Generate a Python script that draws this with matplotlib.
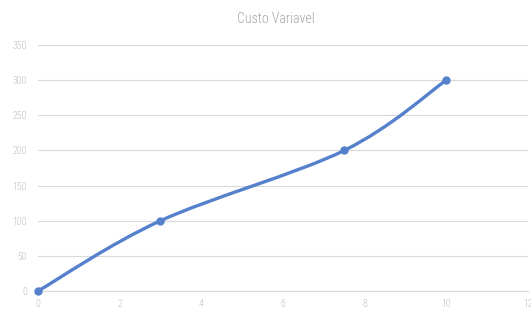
import matplotlib.pyplot as plt
from matplotlib.path import Path
from matplotlib.patches import PathPatch
from matplotlib import font_manager

x_vals = [0, 3, 7.5, 10]
y_vals = [0, 100, 200, 300]
x_ticks = [0, 2, 4, 6, 8, 10, 12]
y_ticks = [0, 50, 100, 150, 200, 250, 300, 350]
title = 'Custo Variavel'

line_color = '#5580CC'

# narrow light font if there is one
names = {f.name for f in font_manager.fontManager.ttflist}
fam = 'DejaVu Sans'
for cand in ['Roboto Condensed', 'Liberation Sans Narrow', 'Open Sans Condensed',
             'DejaVu Sans Condensed', 'Roboto']:
    if cand in names:
        fam = cand
        break
plt.rcParams['font.family'] = [fam, 'DejaVu Sans']
plt.rcParams['font.weight'] = 'light'


def smooth_path(xs, ys):
    # bezier pieces like the spreadsheet "smoothed line"
    pts = list(zip(xs, ys))
    verts = [pts[0]]
    codes = [Path.MOVETO]
    n = len(pts)
    for i in range(n - 1):
        p0 = pts[i - 1] if i > 0 else pts[i]
        p1 = pts[i]
        p2 = pts[i + 1]
        p3 = pts[i + 2] if i + 2 < n else pts[i + 1]
        c1 = (p1[0] + (p2[0] - p0[0]) / 6, p1[1] + (p2[1] - p0[1]) / 6)
        c2 = (p2[0] - (p3[0] - p1[0]) / 6, p2[1] - (p3[1] - p1[1]) / 6)
        verts += [c1, c2, p2]
        codes += [Path.CURVE4] * 3
    return Path(verts, codes)


fig = plt.figure(figsize=(5.31, 3.11), dpi=100)
ax = fig.add_axes([0.0716, 0.0643, 0.9224, 0.7907])

ax.add_patch(PathPatch(smooth_path(x_vals, y_vals), facecolor='none',
                       edgecolor=line_color, lw=2.4, capstyle='round', zorder=3))
ax.plot(x_vals, y_vals, 'o', color=line_color, markersize=5, zorder=4, clip_on=False)

ax.set_xlim(0, 12)
ax.set_ylim(0, 350)
ax.set_xticks(x_ticks)
ax.set_yticks(y_ticks)
ax.grid(axis='y', color='#D9D9D9', lw=0.8)
ax.set_axisbelow(True)
for s in ['top', 'right', 'left']:
    ax.spines[s].set_visible(False)
ax.spines['bottom'].set_color('#D9D9D9')
ax.tick_params(length=0, labelsize=7, labelcolor='#BFBFBF', pad=6)
ax.tick_params(axis='y', pad=8)

fig.text(0.52, 0.94, title, ha='center', va='center', fontsize=10, color='#A6A6A6')

fig.savefig('out.png', dpi=100)
